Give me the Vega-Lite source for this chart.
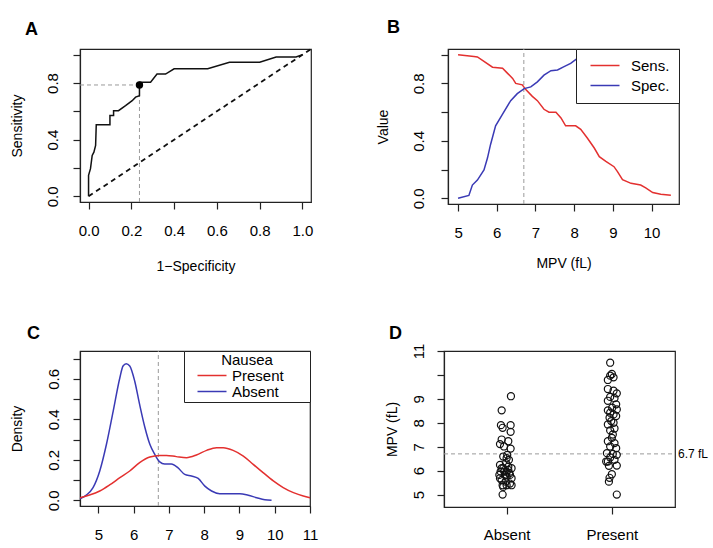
{
  "$schema": "https://vega.github.io/schema/vega-lite/v6.json",
  "padding": {"left": 9, "top": 18, "right": 0, "bottom": 0},
  "background": "white",
  "config": {
    "font": "Liberation Sans",
    "view": {"stroke": "#222222", "strokeWidth": 1.2},
    "axis": {"domain": true, "domainColor": "#222222", "domainWidth": 1.2, "tickColor": "#222222", "tickWidth": 1.2, "tickSize": 7, "grid": false, "labelFontSize": 15, "labelColor": "black", "titleColor": "black", "titleFontSize": 14, "titleFontWeight": "normal", "labelFlush": false, "labelOverlap": false, "labelSeparation": -30, "labelFont": "Liberation Sans", "titleFont": "Liberation Sans"},
    "axisY": {"labelAngle": 270, "labelAlign": "center", "labelBaseline": "bottom"},
    "title": {"fontSize": 18, "fontWeight": "bold", "anchor": "start", "frame": "group", "baseline": "alphabetic", "color": "black", "font": "Liberation Sans"},
    "legend": {"labelFont": "Liberation Sans", "titleFont": "Liberation Sans", "labelColor": "black", "titleColor": "black"}
  },
  "resolve": {"scale": {"color": "independent"}, "legend": {"color": "independent"}},
  "spacing": 49,
  "vconcat": [
    {
      "hconcat": [
        {
          "width": 231, "height": 153,
          "title": {"text": "A", "dx": -55, "offset": 6},
          "encoding": {
            "x": {"field": "x", "type": "quantitative", "scale": {"domain": [-0.04, 1.04], "nice": false, "zero": false}, "axis": {"values": [0, 0.2, 0.4, 0.6, 0.8, 1], "format": ".1f", "title": "1−Specificity", "labelPadding": 14, "titlePadding": 21, "labelOverlap": false}},
            "y": {"field": "y", "type": "quantitative", "scale": {"domain": [-0.04, 1.04], "nice": false, "zero": false}, "axis": {"values": [0, 0.2, 0.4, 0.6, 0.8, 1], "labelExpr": "(datum.value < 0.01 || abs(datum.value - 0.4) < 0.01 || abs(datum.value - 0.8) < 0.01) ? format(datum.value, '.1f') : ''", "title": "Sensitivity", "labelPadding": 12.5, "titlePadding": 21, "labelOverlap": false}}
          },
          "layer": [
            {"data": {"values": [{"x": 0, "y": 0}, {"x": 1.04, "y": 1.04}]}, "mark": {"type": "line", "color": "#111111", "strokeDash": [5, 4], "strokeWidth": 1.8}},
            {"data": {"values": [{"x": -0.04, "y": 0.786, "x2": 0.238, "y2": 0.786}, {"x": 0.238, "y": -0.04, "x2": 0.238, "y2": 0.786}]}, "mark": {"type": "rule", "color": "#9a9a9a", "strokeDash": [4, 3], "strokeWidth": 1}, "encoding": {"x2": {"field": "x2"}, "y2": {"field": "y2"}}},
            {"data": {"values": [
              {"i": 1, "x": 0, "y": 0}, {"i": 2, "x": 0, "y": 0.148}, {"i": 3, "x": 0.009, "y": 0.195}, {"i": 4, "x": 0.017, "y": 0.289}, {"i": 5, "x": 0.025, "y": 0.312}, {"i": 6, "x": 0.033, "y": 0.359}, {"i": 7, "x": 0.036, "y": 0.505}, {"i": 8, "x": 0.1, "y": 0.505}, {"i": 9, "x": 0.1, "y": 0.57}, {"i": 10, "x": 0.117, "y": 0.57}, {"i": 11, "x": 0.117, "y": 0.605}, {"i": 12, "x": 0.14, "y": 0.605}, {"i": 13, "x": 0.173, "y": 0.64}, {"i": 14, "x": 0.204, "y": 0.675}, {"i": 15, "x": 0.22, "y": 0.7}, {"i": 16, "x": 0.238, "y": 0.71}, {"i": 17, "x": 0.238, "y": 0.805}, {"i": 18, "x": 0.29, "y": 0.805}, {"i": 19, "x": 0.32, "y": 0.863}, {"i": 20, "x": 0.36, "y": 0.863}, {"i": 21, "x": 0.4, "y": 0.9}, {"i": 22, "x": 0.557, "y": 0.9}, {"i": 23, "x": 0.659, "y": 0.946}, {"i": 24, "x": 0.8, "y": 0.946}, {"i": 25, "x": 0.877, "y": 0.984}, {"i": 26, "x": 0.97, "y": 0.984}, {"i": 27, "x": 1, "y": 1}
            ]}, "mark": {"type": "line", "color": "#111111", "strokeWidth": 1.5}, "encoding": {"order": {"field": "i", "type": "quantitative"}}},
            {"data": {"values": [{"x": 0.238, "y": 0.786}]}, "mark": {"type": "point", "filled": true, "color": "black", "size": 55, "opacity": 1}}
          ]
        },
        {
          "width": 231, "height": 155,
          "title": {"text": "B", "dx": -61, "offset": 11.7},
          "encoding": {
            "x": {"field": "mpv", "type": "quantitative", "scale": {"domain": [4.74, 10.71], "nice": false, "zero": false}, "axis": {"values": [5, 6, 7, 8, 9, 10], "format": "d", "title": "MPV (fL)", "labelPadding": 14, "titlePadding": 16, "labelOverlap": false}},
            "y": {"field": "value", "type": "quantitative", "scale": {"domain": [-0.04, 1.04], "nice": false, "zero": false}, "axis": {"values": [0, 0.2, 0.4, 0.6, 0.8, 1], "labelExpr": "(datum.value < 0.01 || abs(datum.value - 0.4) < 0.01 || abs(datum.value - 0.8) < 0.01) ? format(datum.value, '.1f') : ''", "title": "Value", "labelPadding": 14.5, "titlePadding": 21, "labelOverlap": false}}
          },
          "layer": [
            {"data": {"values": [{"mpv": 6.7, "value": -0.04, "value_end": 1.04}]}, "mark": {"type": "rule", "color": "#9a9a9a", "strokeDash": [4, 3], "strokeWidth": 1}, "encoding": {"y2": {"field": "value_end"}}},
            {"data": {"values": [
              {"series": "Sens.", "mpv": 5.0, "value": 1.0}, {"series": "Sens.", "mpv": 5.41, "value": 0.988}, {"series": "Sens.", "mpv": 5.5, "value": 0.985}, {"series": "Sens.", "mpv": 5.67, "value": 0.953}, {"series": "Sens.", "mpv": 5.89, "value": 0.913}, {"series": "Sens.", "mpv": 6.15, "value": 0.906}, {"series": "Sens.", "mpv": 6.28, "value": 0.87}, {"series": "Sens.", "mpv": 6.41, "value": 0.835}, {"series": "Sens.", "mpv": 6.49, "value": 0.8}, {"series": "Sens.", "mpv": 6.66, "value": 0.79}, {"series": "Sens.", "mpv": 6.75, "value": 0.757}, {"series": "Sens.", "mpv": 6.92, "value": 0.71}, {"series": "Sens.", "mpv": 7.05, "value": 0.68}, {"series": "Sens.", "mpv": 7.22, "value": 0.62}, {"series": "Sens.", "mpv": 7.35, "value": 0.6}, {"series": "Sens.", "mpv": 7.53, "value": 0.6}, {"series": "Sens.", "mpv": 7.66, "value": 0.56}, {"series": "Sens.", "mpv": 7.78, "value": 0.505}, {"series": "Sens.", "mpv": 8.04, "value": 0.505}, {"series": "Sens.", "mpv": 8.17, "value": 0.48}, {"series": "Sens.", "mpv": 8.34, "value": 0.42}, {"series": "Sens.", "mpv": 8.52, "value": 0.35}, {"series": "Sens.", "mpv": 8.65, "value": 0.29}, {"series": "Sens.", "mpv": 8.82, "value": 0.257}, {"series": "Sens.", "mpv": 9.03, "value": 0.22}, {"series": "Sens.", "mpv": 9.12, "value": 0.186}, {"series": "Sens.", "mpv": 9.25, "value": 0.13}, {"series": "Sens.", "mpv": 9.47, "value": 0.104}, {"series": "Sens.", "mpv": 9.72, "value": 0.092}, {"series": "Sens.", "mpv": 9.85, "value": 0.073}, {"series": "Sens.", "mpv": 10.03, "value": 0.04}, {"series": "Sens.", "mpv": 10.24, "value": 0.028}, {"series": "Sens.", "mpv": 10.5, "value": 0.021},
              {"series": "Spec.", "mpv": 5.0, "value": 0.0}, {"series": "Spec.", "mpv": 5.28, "value": 0.02}, {"series": "Spec.", "mpv": 5.37, "value": 0.092}, {"series": "Spec.", "mpv": 5.5, "value": 0.127}, {"series": "Spec.", "mpv": 5.67, "value": 0.198}, {"series": "Spec.", "mpv": 5.76, "value": 0.28}, {"series": "Spec.", "mpv": 5.84, "value": 0.375}, {"series": "Spec.", "mpv": 5.97, "value": 0.505}, {"series": "Spec.", "mpv": 6.15, "value": 0.587}, {"series": "Spec.", "mpv": 6.36, "value": 0.68}, {"series": "Spec.", "mpv": 6.53, "value": 0.729}, {"series": "Spec.", "mpv": 6.71, "value": 0.764}, {"series": "Spec.", "mpv": 6.88, "value": 0.776}, {"series": "Spec.", "mpv": 7.05, "value": 0.811}, {"series": "Spec.", "mpv": 7.22, "value": 0.858}, {"series": "Spec.", "mpv": 7.4, "value": 0.889}, {"series": "Spec.", "mpv": 7.57, "value": 0.894}, {"series": "Spec.", "mpv": 7.74, "value": 0.917}, {"series": "Spec.", "mpv": 7.91, "value": 0.94}, {"series": "Spec.", "mpv": 8.09, "value": 0.976}, {"series": "Spec.", "mpv": 8.3, "value": 1.0}, {"series": "Spec.", "mpv": 10.5, "value": 1.0}
            ]},
             "mark": {"type": "line", "strokeWidth": 1.5},
             "encoding": {
               "color": {"field": "series", "type": "nominal", "scale": {"domain": ["Sens.", "Spec."], "range": ["#e3302f", "#3a3ab5"]},
                 "legend": {"title": null, "orient": "top-right", "offset": 0, "fillColor": "white", "strokeColor": "#222222", "padding": 9, "rowPadding": 4, "labelFontSize": 15, "symbolType": "M-0.4,0H5.4", "symbolSize": 100, "symbolStrokeWidth": 1.5, "labelOffset": 31}}
             }
            }
          ]
        }
      ],
      "spacing": 59,
      "resolve": {"scale": {"color": "independent"}, "legend": {"color": "independent"}}
    },
    {
      "hconcat": [
        {
          "width": 230, "height": 155,
          "title": {"text": "C", "dx": -53, "offset": 7.5},
          "encoding": {
            "x": {"field": "mpv", "type": "quantitative", "scale": {"domain": [4.48, 11.0], "nice": false, "zero": false}, "axis": {"values": [5, 6, 7, 8, 9, 10, 11], "format": "d", "title": null, "labelPadding": 14, "labelOverlap": false}},
            "y": {"field": "density", "type": "quantitative", "scale": {"domain": [-0.028, 0.738], "nice": false, "zero": false}, "axis": {"values": [0, 0.1, 0.2, 0.3, 0.4, 0.5, 0.6, 0.7], "labelExpr": "(round(datum.value * 10) % 2 == 0 && datum.value < 0.65) ? format(datum.value, '.1f') : ''", "title": "Density", "labelPadding": 12, "titlePadding": 22, "labelOverlap": false}}
          },
          "layer": [
            {"data": {"values": [{"mpv": 6.7, "density": -0.028, "density_end": 0.738}]}, "mark": {"type": "rule", "color": "#9a9a9a", "strokeDash": [4, 3], "strokeWidth": 1}, "encoding": {"y2": {"field": "density_end"}}},
            {"data": {"values": [
              {"group": "Absent", "mpv": 4.48, "density": 0.008}, {"group": "Absent", "mpv": 4.66, "density": 0.026}, {"group": "Absent", "mpv": 4.85, "density": 0.063}, {"group": "Absent", "mpv": 5.04, "density": 0.145}, {"group": "Absent", "mpv": 5.23, "density": 0.277}, {"group": "Absent", "mpv": 5.42, "density": 0.44}, {"group": "Absent", "mpv": 5.61, "density": 0.606}, {"group": "Absent", "mpv": 5.7, "density": 0.664}, {"group": "Absent", "mpv": 5.79, "density": 0.675}, {"group": "Absent", "mpv": 5.89, "density": 0.664}, {"group": "Absent", "mpv": 6.03, "density": 0.59}, {"group": "Absent", "mpv": 6.17, "density": 0.474}, {"group": "Absent", "mpv": 6.32, "density": 0.36}, {"group": "Absent", "mpv": 6.46, "density": 0.277}, {"group": "Absent", "mpv": 6.6, "density": 0.227}, {"group": "Absent", "mpv": 6.74, "density": 0.19}, {"group": "Absent", "mpv": 6.88, "density": 0.18}, {"group": "Absent", "mpv": 7.07, "density": 0.18}, {"group": "Absent", "mpv": 7.26, "density": 0.16}, {"group": "Absent", "mpv": 7.45, "density": 0.128}, {"group": "Absent", "mpv": 7.64, "density": 0.12}, {"group": "Absent", "mpv": 7.83, "density": 0.108}, {"group": "Absent", "mpv": 8.02, "density": 0.07}, {"group": "Absent", "mpv": 8.21, "density": 0.046}, {"group": "Absent", "mpv": 8.44, "density": 0.033}, {"group": "Absent", "mpv": 8.73, "density": 0.033}, {"group": "Absent", "mpv": 9.01, "density": 0.033}, {"group": "Absent", "mpv": 9.25, "density": 0.025}, {"group": "Absent", "mpv": 9.49, "density": 0.013}, {"group": "Absent", "mpv": 9.72, "density": 0.003}, {"group": "Absent", "mpv": 9.91, "density": 0.0},
              {"group": "Present", "mpv": 4.48, "density": 0.013}, {"group": "Present", "mpv": 4.75, "density": 0.026}, {"group": "Present", "mpv": 5.04, "density": 0.046}, {"group": "Present", "mpv": 5.32, "density": 0.076}, {"group": "Present", "mpv": 5.61, "density": 0.112}, {"group": "Present", "mpv": 5.89, "density": 0.145}, {"group": "Present", "mpv": 6.17, "density": 0.186}, {"group": "Present", "mpv": 6.46, "density": 0.214}, {"group": "Present", "mpv": 6.74, "density": 0.222}, {"group": "Present", "mpv": 6.93, "density": 0.222}, {"group": "Present", "mpv": 7.21, "density": 0.216}, {"group": "Present", "mpv": 7.5, "density": 0.211}, {"group": "Present", "mpv": 7.78, "density": 0.224}, {"group": "Present", "mpv": 8.07, "density": 0.247}, {"group": "Present", "mpv": 8.35, "density": 0.26}, {"group": "Present", "mpv": 8.54, "density": 0.26}, {"group": "Present", "mpv": 8.82, "density": 0.247}, {"group": "Present", "mpv": 9.11, "density": 0.219}, {"group": "Present", "mpv": 9.39, "density": 0.178}, {"group": "Present", "mpv": 9.67, "density": 0.137}, {"group": "Present", "mpv": 9.96, "density": 0.096}, {"group": "Present", "mpv": 10.24, "density": 0.063}, {"group": "Present", "mpv": 10.53, "density": 0.038}, {"group": "Present", "mpv": 10.81, "density": 0.021}, {"group": "Present", "mpv": 11.0, "density": 0.013}
            ]},
             "mark": {"type": "line", "strokeWidth": 1.5, "interpolate": "monotone"},
             "encoding": {
               "color": {"field": "group", "type": "nominal", "scale": {"domain": ["Present", "Absent"], "range": ["#e3302f", "#3a3ab5"]},
                 "legend": {"title": "Nausea", "titleFontSize": 15, "titleFontWeight": "normal", "titleAnchor": "middle", "titlePadding": 0, "orient": "top-right", "offset": 0, "fillColor": "white", "strokeColor": "#222222", "padding": 2, "rowPadding": 0, "labelFontSize": 15, "symbolType": "M0.8,0H6.6M22.2,0", "symbolSize": 100, "symbolStrokeWidth": 1.5, "labelOffset": 31}}
             }
            }
          ]
        },
        {
          "width": 231, "height": 156,
          "title": {"text": "D", "dx": -55, "offset": 0.7},
          "encoding": {
            "x": {"field": "grp", "type": "quantitative", "scale": {"domain": [0.405, 2.6], "nice": false, "zero": false}, "axis": {"values": [1, 2], "labelExpr": "datum.value == 1 ? 'Absent' : 'Present'", "title": null, "labelPadding": 13, "labelOverlap": false}},
            "y": {"field": "mpv", "type": "quantitative", "scale": {"domain": [4.48, 11.0], "nice": false, "zero": false}, "axis": {"values": [5, 6, 7, 8, 9, 10, 11], "labelExpr": "datum.value == 10 ? '' : datum.label", "title": "MPV (fL)", "labelPadding": 11, "titlePadding": 12, "labelOverlap": false}}
          },
          "layer": [
            {"data": {"values": [{"grp": 0.405, "grp_end": 2.6, "mpv": 6.7}]}, "mark": {"type": "rule", "color": "#9a9a9a", "strokeDash": [4, 3], "strokeWidth": 1}, "encoding": {"x2": {"field": "grp_end"}}},
            {"data": {"values": [
              {"nausea": "Absent", "grp": 0.962, "mpv": 5.0}, {"nausea": "Absent", "grp": 0.968, "mpv": 5.32}, {"nausea": "Absent", "grp": 1.0, "mpv": 5.39}, {"nausea": "Absent", "grp": 0.953, "mpv": 8.52}, {"nausea": "Absent", "grp": 1.041, "mpv": 9.11}, {"nausea": "Absent", "grp": 0.946, "mpv": 7.9}, {"nausea": "Absent", "grp": 0.962, "mpv": 7.79}, {"nausea": "Absent", "grp": 1.038, "mpv": 7.9}, {"nausea": "Absent", "grp": 1.038, "mpv": 7.62}, {"nausea": "Absent", "grp": 0.953, "mpv": 7.3}, {"nausea": "Absent", "grp": 1.016, "mpv": 7.23}, {"nausea": "Absent", "grp": 0.937, "mpv": 7.11}, {"nausea": "Absent", "grp": 0.975, "mpv": 7.01}, {"nausea": "Absent", "grp": 1.038, "mpv": 6.92}, {"nausea": "Absent", "grp": 0.968, "mpv": 6.59}, {"nausea": "Absent", "grp": 1.0, "mpv": 6.52}, {"nausea": "Absent", "grp": 1.022, "mpv": 6.45}, {"nausea": "Absent", "grp": 0.937, "mpv": 6.24}, {"nausea": "Absent", "grp": 1.016, "mpv": 6.17}, {"nausea": "Absent", "grp": 1.047, "mpv": 6.1}, {"nausea": "Absent", "grp": 0.943, "mpv": 5.96}, {"nausea": "Absent", "grp": 0.978, "mpv": 5.96}, {"nausea": "Absent", "grp": 1.025, "mpv": 5.89}, {"nausea": "Absent", "grp": 0.931, "mpv": 5.82}, {"nausea": "Absent", "grp": 1.0, "mpv": 5.75}, {"nausea": "Absent", "grp": 1.047, "mpv": 5.68}, {"nausea": "Absent", "grp": 0.953, "mpv": 5.61}, {"nausea": "Absent", "grp": 0.99, "mpv": 5.54}, {"nausea": "Absent", "grp": 1.032, "mpv": 5.46}, {"nausea": "Absent", "grp": 0.962, "mpv": 5.39}, {"nausea": "Absent", "grp": 1.047, "mpv": 5.39}, {"nausea": "Absent", "grp": 0.937, "mpv": 5.68}, {"nausea": "Absent", "grp": 1.016, "mpv": 6.03}, {"nausea": "Absent", "grp": 0.994, "mpv": 6.31}, {"nausea": "Absent", "grp": 0.968, "mpv": 6.1}, {"nausea": "Absent", "grp": 1.006, "mpv": 6.66}, {"nausea": "Absent", "grp": 0.984, "mpv": 5.82}, {"nausea": "Absent", "grp": 1.032, "mpv": 5.82}, {"nausea": "Absent", "grp": 0.953, "mpv": 6.1}, {"nausea": "Absent", "grp": 1.0, "mpv": 5.96},
              {"nausea": "Present", "grp": 1.984, "mpv": 10.51}, {"nausea": "Present", "grp": 2.0, "mpv": 10.04}, {"nausea": "Present", "grp": 1.984, "mpv": 9.97}, {"nausea": "Present", "grp": 2.016, "mpv": 9.9}, {"nausea": "Present", "grp": 1.962, "mpv": 9.79}, {"nausea": "Present", "grp": 1.962, "mpv": 9.41}, {"nausea": "Present", "grp": 2.016, "mpv": 9.34}, {"nausea": "Present", "grp": 2.047, "mpv": 9.23}, {"nausea": "Present", "grp": 1.984, "mpv": 9.08}, {"nausea": "Present", "grp": 2.025, "mpv": 9.03}, {"nausea": "Present", "grp": 1.962, "mpv": 8.92}, {"nausea": "Present", "grp": 2.041, "mpv": 8.77}, {"nausea": "Present", "grp": 2.003, "mpv": 8.63}, {"nausea": "Present", "grp": 2.047, "mpv": 8.56}, {"nausea": "Present", "grp": 1.962, "mpv": 8.52}, {"nausea": "Present", "grp": 1.984, "mpv": 8.42}, {"nausea": "Present", "grp": 2.016, "mpv": 8.35}, {"nausea": "Present", "grp": 1.978, "mpv": 8.21}, {"nausea": "Present", "grp": 2.041, "mpv": 8.28}, {"nausea": "Present", "grp": 1.994, "mpv": 8.07}, {"nausea": "Present", "grp": 1.962, "mpv": 7.93}, {"nausea": "Present", "grp": 2.016, "mpv": 8.0}, {"nausea": "Present", "grp": 2.025, "mpv": 7.76}, {"nausea": "Present", "grp": 1.984, "mpv": 7.68}, {"nausea": "Present", "grp": 2.009, "mpv": 7.51}, {"nausea": "Present", "grp": 2.0, "mpv": 7.37}, {"nausea": "Present", "grp": 1.962, "mpv": 7.23}, {"nausea": "Present", "grp": 2.025, "mpv": 7.15}, {"nausea": "Present", "grp": 1.984, "mpv": 7.01}, {"nausea": "Present", "grp": 2.041, "mpv": 6.94}, {"nausea": "Present", "grp": 1.953, "mpv": 6.73}, {"nausea": "Present", "grp": 2.009, "mpv": 6.7}, {"nausea": "Present", "grp": 2.047, "mpv": 6.66}, {"nausea": "Present", "grp": 1.984, "mpv": 6.55}, {"nausea": "Present", "grp": 1.962, "mpv": 6.38}, {"nausea": "Present", "grp": 2.025, "mpv": 6.45}, {"nausea": "Present", "grp": 1.972, "mpv": 6.2}, {"nausea": "Present", "grp": 2.047, "mpv": 6.21}, {"nausea": "Present", "grp": 2.0, "mpv": 5.85}, {"nausea": "Present", "grp": 1.978, "mpv": 5.7}, {"nausea": "Present", "grp": 1.972, "mpv": 5.54}, {"nausea": "Present", "grp": 2.047, "mpv": 5.0}, {"nausea": "Present", "grp": 1.946, "mpv": 6.38}
            ]},
             "mark": {"type": "point", "shape": "circle", "filled": false, "color": "#111111", "size": 50, "strokeWidth": 1.2, "opacity": 1}
            },
            {"data": {"values": [{"grp": 2.6, "mpv": 6.7, "label": "6.7 fL"}]}, "mark": {"type": "text", "align": "left", "baseline": "middle", "dx": 3, "fontSize": 12, "color": "black"}, "encoding": {"text": {"field": "label"}}}
          ]
        }
      ],
      "spacing": 65,
      "resolve": {"scale": {"color": "independent"}, "legend": {"color": "independent"}}
    }
  ]
}
